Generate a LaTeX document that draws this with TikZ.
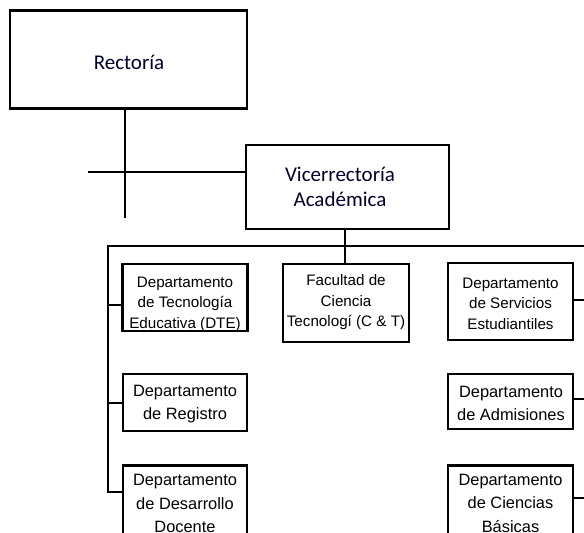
\documentclass[tikz,border=0pt]{standalone}
\usepackage{fontspec}
\setmainfont{Liberation Sans}
\newfontfamily\calib{Carlito}
\begin{document}
\begin{tikzpicture}[x=1pt,y=-1pt,
  box/.style={draw, line width=2.6pt, inner sep=0pt, rectangle},
  bigtxt/.style={font=\calib\fontsize{21}{25}\selectfont, align=center, text=black!85!blue},
  toptxt/.style={font=\fontsize{15.2}{20.5}\selectfont, align=center},
  lowtxt/.style={font=\fontsize{16.4}{23.5}\selectfont, align=center},
  conn/.style={line width=2.2pt}]
\useasboundingbox (0,0) rectangle (584,533);
\clip (0,0) rectangle (584,533);
% top boxes
\node[box, minimum width=237pt, minimum height=98pt] (rect) at (128.5,59.5) {};
\node[bigtxt] (rectt) at (129,62) {Rectoría};
\node[box, minimum width=203pt, minimum height=84pt] (vice) at (347.5,187) {};
\node[bigtxt] (vicet) at (340,187) {Vicerrectoría\\Académica};
% second level boxes
\node[box, minimum width=125pt, minimum height=67pt] (dte) at (185,297.5) {};
\node[toptxt] (dtet) at (185,304) {Departamento\\de Tecnología\\Educativa (DTE)};
\node[box, minimum width=126pt, minimum height=78pt] (fac) at (346,303) {};
\node[toptxt] (fact) at (346,302.5) {Facultad de\\Ciencia\\Tecnologí (C \& T)};
\node[box, minimum width=125pt, minimum height=77pt] (serv) at (510.5,301.5) {};
\node[toptxt] (servt) at (510.5,303.5) {Departamento\\de Servicios\\Estudiantiles};
\node[box, minimum width=124pt, minimum height=57pt] (reg) at (185,402.5) {};
\node[lowtxt] (regt) at (185,404) {Departamento\\de Registro};
\node[box, minimum width=125pt, minimum height=55pt] (adm) at (510.5,401.5) {};
\node[lowtxt] (admt) at (511,403.5) {Departamento\\de Admisiones};
\node[box, minimum width=124pt, minimum height=84pt, anchor=north] (des) at (185,464) {};
\node[lowtxt] (dest) at (185,503.5) {Departamento\\de Desarrollo\\Docente};
\node[box, minimum width=125pt, minimum height=84pt, anchor=north] (cb) at (510.5,464) {};
\node[lowtxt] (cbt) at (510.5,503) {Departamento\\de Ciencias\\Básicas};
% free ends
\coordinate (rbot) at (125,218);
\coordinate (hl) at (88,172);
\coordinate (busL) at (108,246);
\coordinate (busR) at (590,246);
\coordinate (lbot) at (108,492);
\coordinate (rline) at (590,300);
% connectors
\draw[conn] (rect.south -| rbot) -- (rbot);
\draw[conn] (hl) -- (vice.west |- hl);
\draw[conn] (vice.south -| 345,0) -- (345,246) -- (fac.north -| 345,0);
\draw[conn] (busR) -- (busL) -- (lbot) -- (des.west |- lbot);
\draw[conn] (dte.west |- 0,305) -- (108,305);
\draw[conn] (reg.west |- 0,403) -- (108,403);
\draw[conn] (serv.east |- 0,300) -- (590,300);
\draw[conn] (adm.east |- 0,399) -- (590,399);
\draw[conn] (cb.east |- 0,498) -- (590,498);
\draw[conn] (590,246) -- (590,498);
\end{tikzpicture}
\end{document}
